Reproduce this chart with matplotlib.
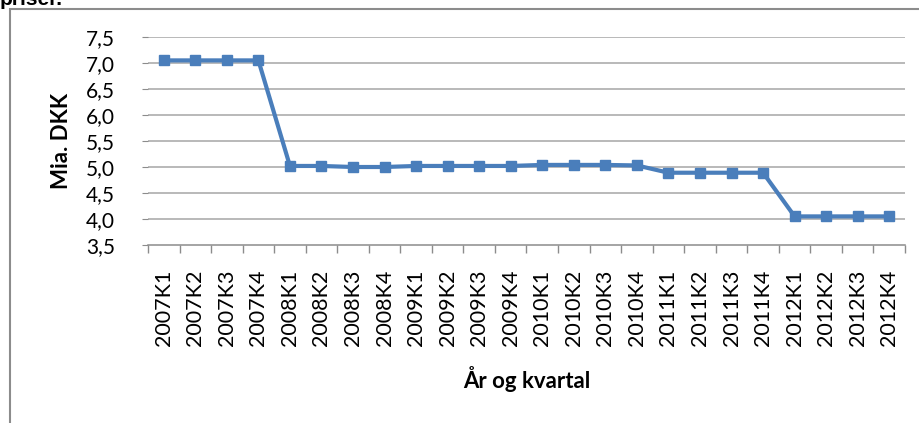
import matplotlib
matplotlib.use('Agg')
import matplotlib.pyplot as plt
from matplotlib.patches import Rectangle

plt.rcParams['font.family'] = ['Lato', 'DejaVu Sans']

# quarters and values (Mia. DKK)
quarters = ['2007K1', '2007K2', '2007K3', '2007K4',
            '2008K1', '2008K2', '2008K3', '2008K4',
            '2009K1', '2009K2', '2009K3', '2009K4',
            '2010K1', '2010K2', '2010K3', '2010K4',
            '2011K1', '2011K2', '2011K3', '2011K4',
            '2012K1', '2012K2', '2012K3', '2012K4']
values = [7.05, 7.05, 7.05, 7.05,
          5.02, 5.02, 5.00, 5.00,
          5.02, 5.02, 5.02, 5.02,
          5.04, 5.04, 5.04, 5.03,
          4.89, 4.89, 4.89, 4.89,
          4.05, 4.05, 4.05, 4.05]
yticks = [3.5, 4.0, 4.5, 5.0, 5.5, 6.0, 6.5, 7.0, 7.5]

fig = plt.figure(figsize=(9.2, 4.23), dpi=100)

# outer chart frame (partly cut off, like the screenshot)
fig.patches.append(Rectangle((10/920, -0.1), 1.0, 1 - 9/423 + 0.1,
                             transform=fig.transFigure, fill=False,
                             edgecolor='#8c8c8c', linewidth=1.5))
# cut-off heading above the chart
fig.text(0.0, 1 - 5/423, 'priser.', fontsize=15, fontweight='bold',
         family='Liberation Sans', ha='left', va='baseline')

ax = fig.add_axes([148/920, 1 - 245/423, (905 - 148)/920, (245 - 37)/423])

x = list(range(len(quarters)))
ax.plot(x, values, color='#4a7ebb', linewidth=3, marker='s',
        markersize=6.5, markeredgecolor='#4a7ebb', markerfacecolor='#4a7ebb',
        zorder=3)

ax.set_xlim(-0.5, len(quarters) - 0.5)
ax.set_ylim(3.5, 7.5)

ax.set_yticks(yticks)
ax.set_yticklabels([('%.1f' % v).replace('.', ',') for v in yticks], fontsize=15)
for v in yticks[1:]:
    ax.axhline(v, color='#a6a6a6', linewidth=1.1, zorder=1)

ax.set_xticks(x)
ax.set_xticklabels(quarters, rotation=90, fontsize=15.5)
ax.set_xticks([i - 0.5 for i in range(len(quarters) + 1)], minor=True)
ax.tick_params(axis='x', which='major', length=0, pad=18)
ax.tick_params(axis='x', which='minor', length=6, color='#8c8c8c', width=1)
ax.tick_params(axis='y', length=4, color='#8c8c8c', pad=20)

for s in ['top', 'right', 'left']:
    ax.spines[s].set_visible(False)
ax.spines['bottom'].set_color('#8c8c8c')
ax.spines['bottom'].set_linewidth(1.1)

ax.set_ylabel('Mia. DKK', fontsize=16, fontweight='bold', labelpad=10)
ax.set_xlabel('År og kvartal', fontsize=16, fontweight='bold', labelpad=14)

fig.savefig('out.png', dpi=100)
